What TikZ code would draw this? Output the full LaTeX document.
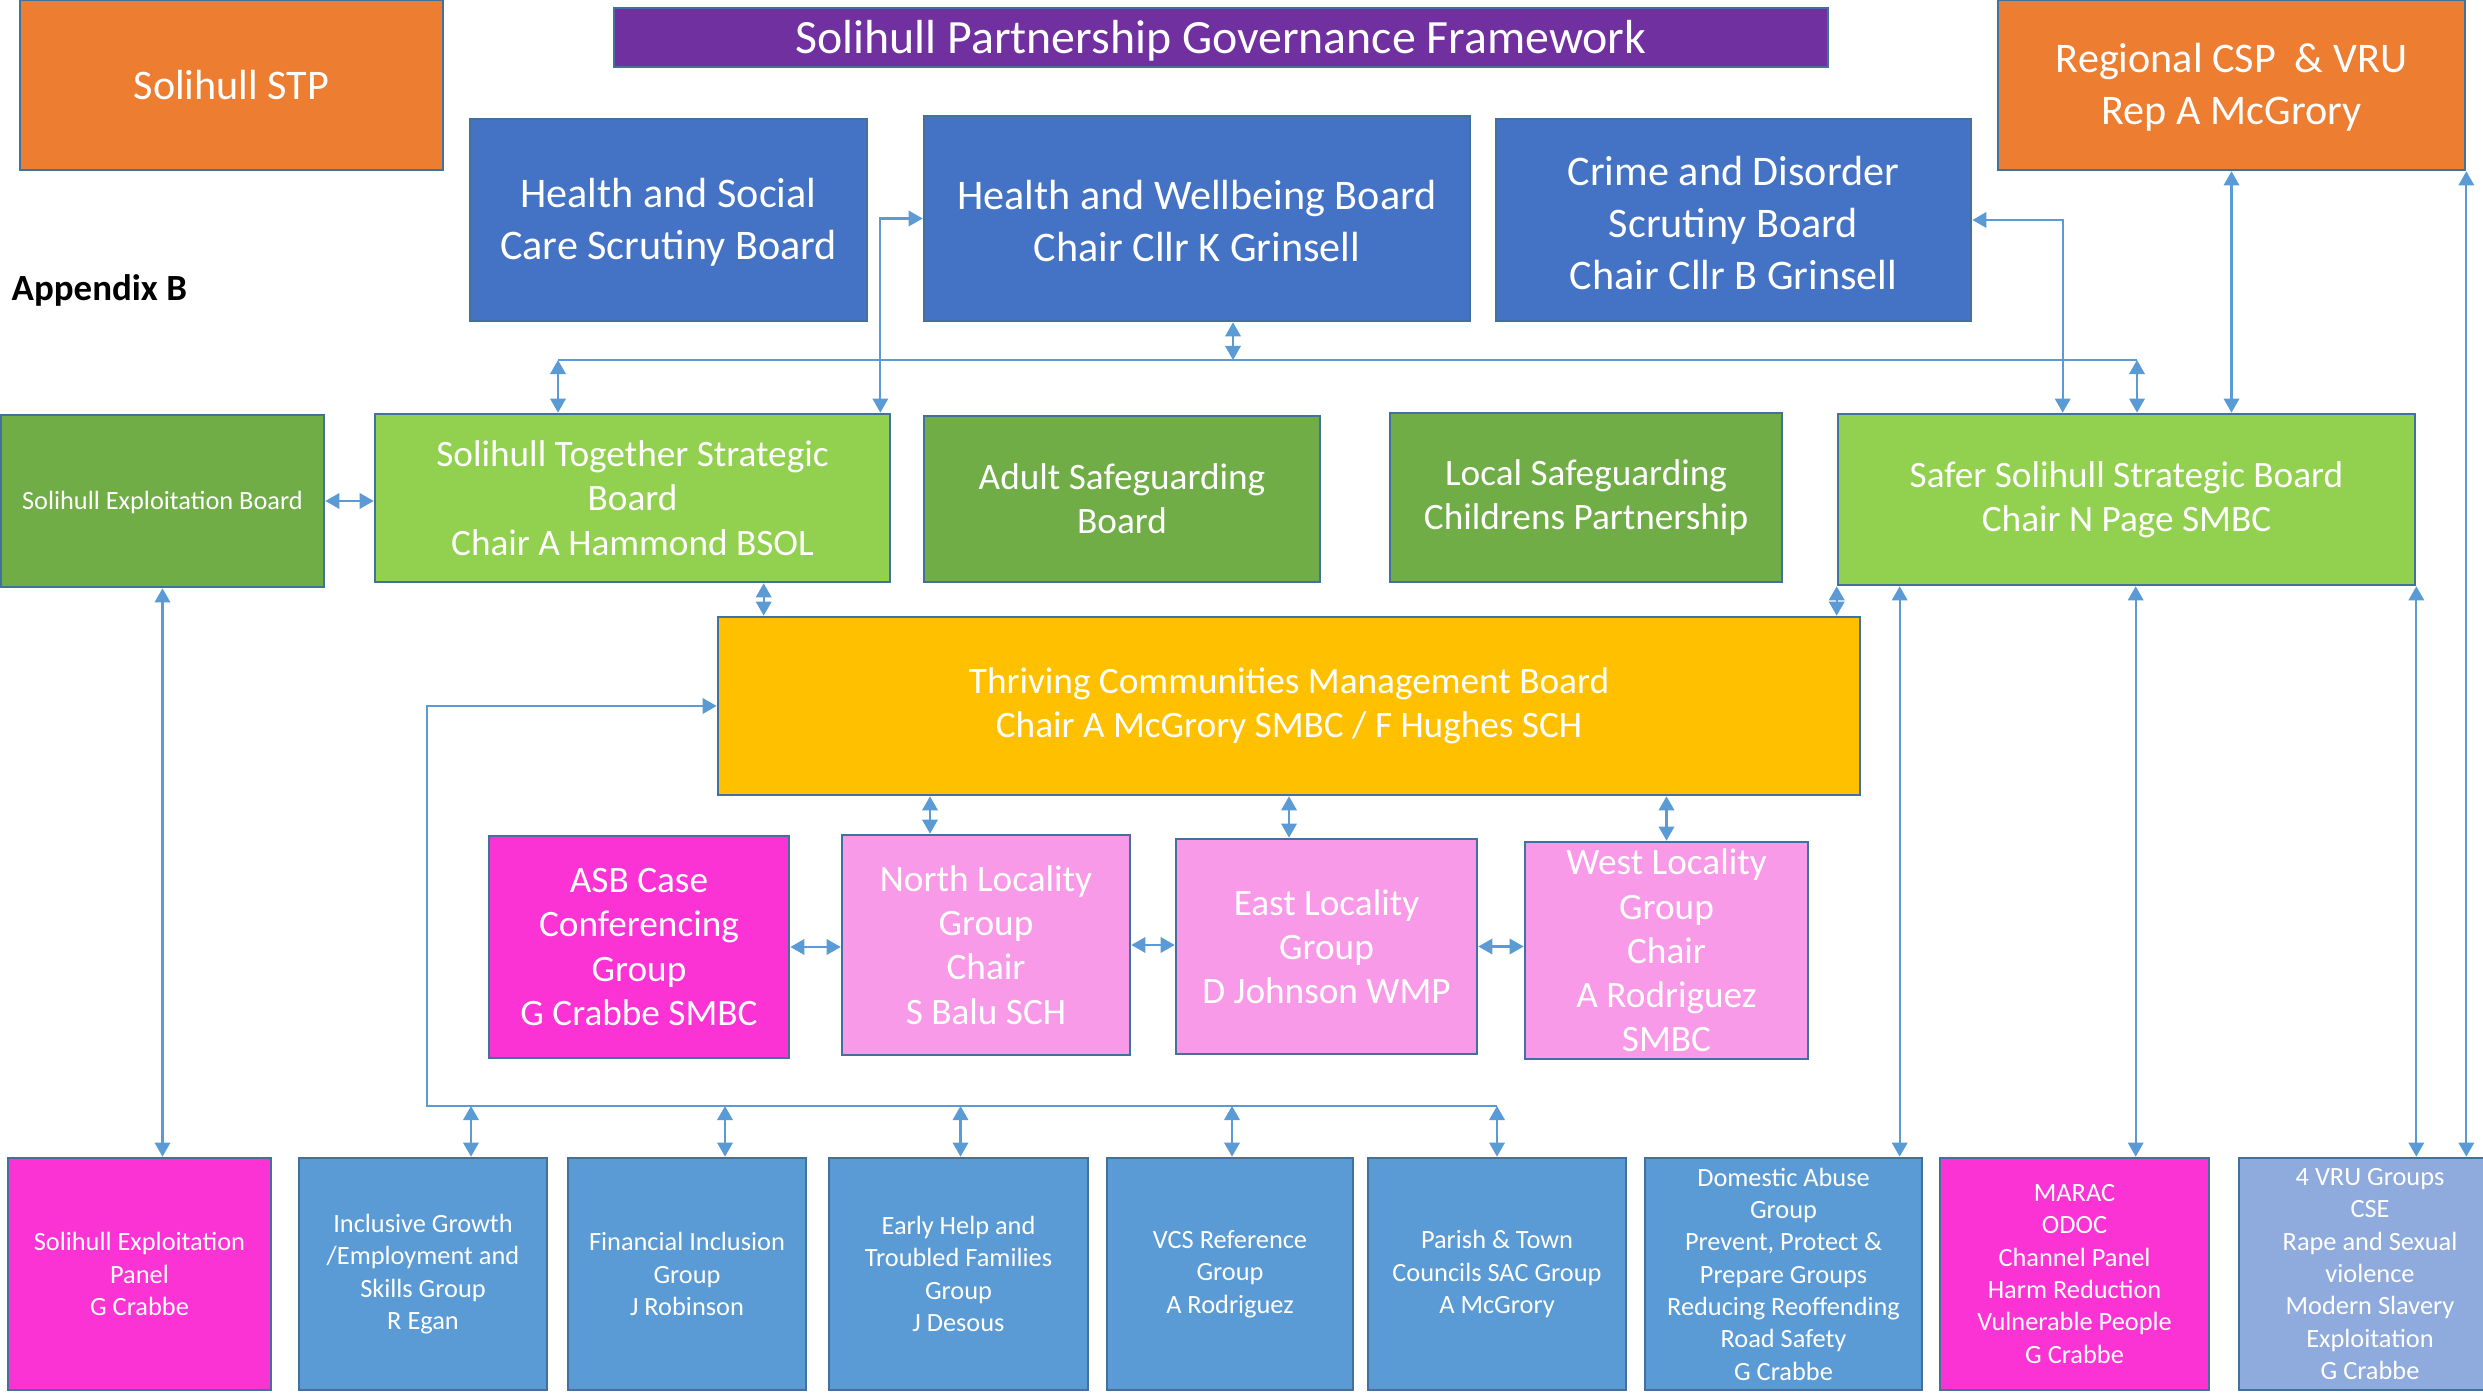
\documentclass[tikz,border=0pt]{standalone}
\usepackage{fontspec}
\setmainfont{Carlito}
\usetikzlibrary{arrows.meta}
\definecolor{edge}{HTML}{41719C}
\definecolor{wire}{HTML}{5B9BD5}
\definecolor{orangeA}{HTML}{ED7D31}
\definecolor{purpleA}{HTML}{7030A0}
\definecolor{blueA}{HTML}{4472C4}
\definecolor{blueB}{HTML}{5B9BD5}
\definecolor{lavA}{HTML}{8FAADC}
\definecolor{greenA}{HTML}{70AD47}
\definecolor{greenB}{HTML}{92D050}
\definecolor{amberA}{HTML}{FFC000}
\definecolor{magA}{HTML}{FC33D4}
\definecolor{pinkA}{HTML}{F99AE8}
\newcommand\hdstrut{\rule{0pt}{0.82em}}

\begin{document}
\begin{tikzpicture}[
	>={Triangle[length=4pt,width=4.4pt]},
	box/.style={draw=edge, line width=0.75pt, text=white, align=center, inner sep=0pt},
	big/.style={box, font=\fontsize{12}{14.8}\selectfont},
	mid/.style={box, font=\fontsize{10.6}{12.6}\selectfont},
	small/.style={box, font=\fontsize{7.5}{9.2}\selectfont},
	low/.style={small, minimum height=2.32cm},
	link/.style={draw=wire, line width=0.6pt},
	both/.style={link, <->},
	one/.style={link, ->}]
	\useasboundingbox (0,0) rectangle (24.83,13.97);
	\node[big, fill=orangeA, minimum width=4.23cm, minimum height=1.70cm] (stp) at (2.315,13.12) {Solihull STP};
	\node[big, fill=purpleA, minimum width=12.14cm, minimum height=0.59cm, font=\fontsize{13.6}{16}\selectfont] (title) at (12.21,13.595) {\hdstrut Solihull Partnership Governance Framework};
	\node[big, fill=orangeA, minimum width=4.67cm, minimum height=1.70cm] (rcsp) at (22.315,13.12) {\hdstrut Regional CSP \ \& VRU\\Rep A McGrory};
	\node[anchor=west, inner sep=0pt, font=\fontsize{10.5}{12}\selectfont\bfseries] (appx) at (0.11,11.07) {Appendix B};
	\node[big, fill=blueA, minimum width=3.97cm, minimum height=2.02cm] (hsc) at (6.685,11.77) {\hdstrut Health and Social\\Care Scrutiny Board};
	\node[big, fill=blueA, minimum width=5.46cm, minimum height=2.05cm] (hwb) at (11.97,11.785) {\hdstrut Health and Wellbeing Board\\Chair Cllr K Grinsell};
	\node[big, fill=blueA, minimum width=4.75cm, minimum height=2.02cm] (cds) at (17.335,11.77) {\hdstrut Crime and Disorder\\Scrutiny Board\\Chair Cllr B Grinsell};

	\node[small, fill=greenA, minimum width=3.23cm, minimum height=1.72cm] (seb) at (1.625,8.96) {\hdstrut Solihull Exploitation Board};
	\node[mid, fill=greenB, minimum width=5.15cm, minimum height=1.68cm] (stsb) at (6.325,8.99) {Solihull Together Strategic\\Board\\Chair A Hammond BSOL};
	\node[mid, fill=greenA, minimum width=3.96cm, minimum height=1.66cm] (asg) at (11.22,8.98) {Adult Safeguarding\\Board};
	\node[mid, fill=greenA, minimum width=3.92cm, minimum height=1.69cm] (lscp) at (15.86,8.995) {Local Safeguarding\\Childrens Partnership};
	\node[mid, fill=greenB, minimum width=5.77cm, minimum height=1.71cm] (sssb) at (21.265,8.975) {Safer Solihull Strategic Board\\Chair N Page SMBC};

	\node[mid, fill=amberA, minimum width=11.42cm, minimum height=1.78cm] (tcmb) at (12.89,6.91) {Thriving Communities Management Board\\Chair A McGrory SMBC / F Hughes SCH};

	\node[mid, fill=magA, minimum width=3.00cm, minimum height=2.22cm] (asbc) at (6.39,4.50) {ASB Case\\Conferencing\\Group\\G Crabbe SMBC};
	\node[mid, fill=pinkA, minimum width=2.88cm, minimum height=2.20cm] (north) at (9.86,4.52) {North Locality\\Group\\Chair\\S Balu SCH};
	\node[mid, fill=pinkA, minimum width=3.01cm, minimum height=2.15cm] (east) at (13.265,4.505) {East Locality\\Group\\D Johnson WMP};
	\node[mid, fill=pinkA, minimum width=2.83cm, minimum height=2.17cm] (west) at (16.665,4.465) {West Locality\\Group\\Chair\\A Rodriguez\\SMBC};

	\node[low, fill=magA, minimum width=2.63cm] (sep) at (1.395,1.23) {Solihull Exploitation\\Panel\\G Crabbe};
	\node[low, fill=blueB, minimum width=2.48cm] (ig) at (4.23,1.23) {Inclusive Growth\\/Employment and\\Skills Group\\R Egan};
	\node[low, fill=blueB, minimum width=2.38cm] (fi) at (6.87,1.23) {Financial Inclusion\\Group\\J Robinson};
	\node[low, fill=blueB, minimum width=2.59cm] (eh) at (9.585,1.23) {Early Help and\\Troubled Families\\Group\\J Desous};
	\node[low, fill=blueB, minimum width=2.46cm] (vcs) at (12.30,1.23) {VCS Reference\\Group\\A Rodriguez};
	\node[low, fill=blueB, minimum width=2.58cm] (ptc) at (14.97,1.23) {Parish \& Town\\Councils SAC Group\\A McGrory};
	\node[low, fill=blueB, minimum width=2.77cm] (da) at (17.835,1.23) {Domestic Abuse\\Group\\Prevent, Protect \&\\Prepare Groups\\Reducing Reoffending\\Road Safety\\G Crabbe};
	\node[low, fill=magA, minimum width=2.69cm] (marac) at (20.745,1.23) {MARAC\\ODOC\\Channel Panel\\Harm Reduction\\Vulnerable People\\G Crabbe};
	\node[low, fill=lavA, minimum width=2.62cm] (vru) at (23.70,1.23) {4 VRU Groups\\CSE\\Rape and Sexual\\violence\\Modern Slavery\\Exploitation\\G Crabbe};

	\coordinate (busW) at (5.58,10.37);
	\coordinate (busM) at (12.33,10.37);
	\coordinate (busE) at (21.37,10.37);
	\draw[link, line width=0.45pt] (busW) -- (busE);
	\draw[both] (busM |- hwb.south) -- (busM);
	\draw[both] (busW) -- (busW |- stsb.north);
	\draw[both] (busE) -- (busE |- sssb.north);
	\draw[both] (hwb.west) -| ([xshift=-0.11cm]stsb.north east);
	\draw[both] (cds.east) -| ([xshift=2.26cm]sssb.north west);
	\draw[both] (rcsp.south) -- (rcsp.south |- sssb.north);
	\draw[both] (rcsp.south east) -- (rcsp.south east |- vru.north);
	\draw[both] (seb.east) -- (seb.east -| stsb.west);
	\draw[both] (seb.south) -- (seb.south |- sep.north);

	\draw[both] ([xshift=0.47cm]tcmb.north west |- stsb.south) -- ([xshift=0.47cm]tcmb.north west);
	\draw[both] (sssb.south west) -- (sssb.south west |- tcmb.north);
	\draw[both] ([xshift=0.63cm]sssb.south west) -- ([xshift=0.63cm]sssb.south west |- da.north);
	\draw[both] ([xshift=2.99cm]sssb.south west) -- ([xshift=2.99cm]sssb.south west |- marac.north);
	\draw[both] (sssb.south east) -- (sssb.south east |- vru.north);

	\draw[both] ([xshift=-0.56cm]north.north |- tcmb.south) -- ([xshift=-0.56cm]north.north);
	\draw[both] ([xshift=-0.375cm]east.north |- tcmb.south) -- ([xshift=-0.375cm]east.north);
	\draw[both] (west.north |- tcmb.south) -- (west.north);
	\draw[both] (asbc.east) -- (asbc.east -| north.west);
	\draw[both] (north.east) -- (north.east -| east.west);
	\draw[both] (east.east) -- (east.east -| west.west);

	\coordinate (loopW) at (4.27,2.91);
	\coordinate (loopE) at (14.97,2.91);
	\draw[one] (loopE) -- (loopW) |- (tcmb.west);
	\foreach \n/\dx in {ig/0.48, fi/0.38, eh/0.02, vcs/0.02, ptc/0}
		\draw[both] ([xshift=\dx cm]\n.north |- loopW) -- ([xshift=\dx cm]\n.north);
\end{tikzpicture}
\end{document}
